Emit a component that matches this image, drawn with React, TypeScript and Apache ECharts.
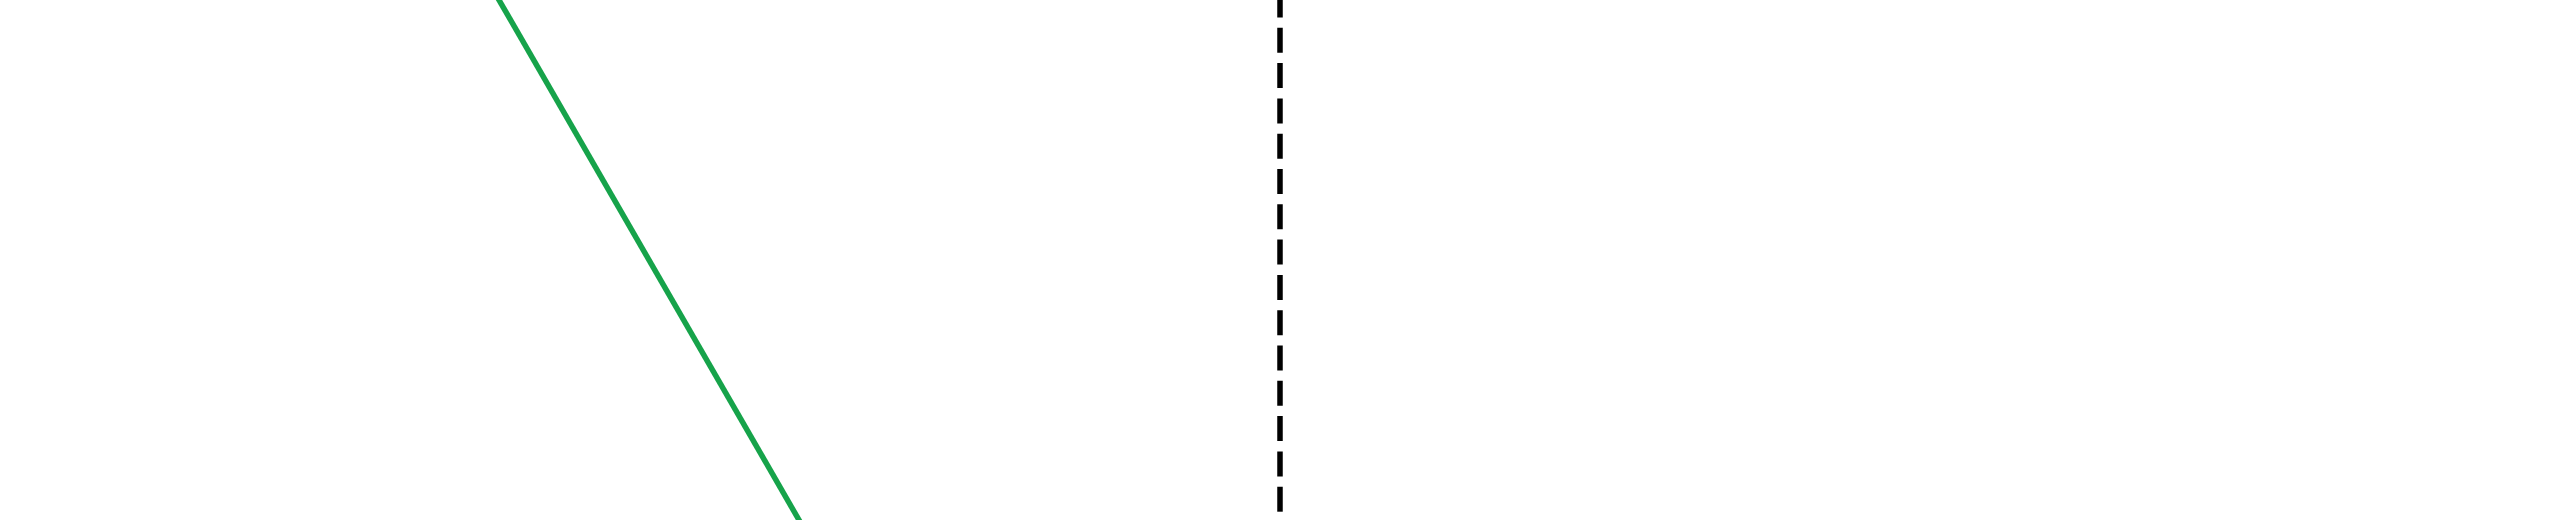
import React, { useEffect, useRef } from "react";
import * as echarts from "echarts";

// visible window of the plot (axes themselves are hidden)
const xRange = [0, 32];
const yRange = [0, 100];

// the falling green series, it runs off the top and bottom of the window
const trendX = [5, 11];
const trendY = [133, -27];

// the dashed marker
const markerX = 16;

const App: React.FC = () => {
  const chartRef = useRef<HTMLDivElement>(null);

  useEffect(() => {
    if (!chartRef.current) return;

    const chartInstance = echarts.init(chartRef.current, undefined, {
      renderer: "svg",
    });

    const option = {
      animation: false,
      backgroundColor: "#ffffff",
      grid: { left: 0, right: 0, top: 0, bottom: 0, containLabel: false },
      xAxis: {
        type: "value",
        min: xRange[0],
        max: xRange[1],
        show: false,
        splitLine: { show: false },
      },
      yAxis: {
        type: "value",
        min: yRange[0],
        max: yRange[1],
        show: false,
        splitLine: { show: false },
      },
      series: [
        {
          type: "line",
          data: trendX.map((x, i) => [x, trendY[i]]),
          showSymbol: false,
          symbol: "none",
          clip: true,
          lineStyle: { color: "#16a34a", width: 5.5 },
          markLine: {
            silent: true,
            symbol: "none",
            label: { show: false },
            lineStyle: {
              color: "#000000",
              width: 5.5,
              type: [25, 10.3], // dash / gap
              dashOffset: 27.3,
            },
            data: [{ xAxis: markerX }],
          },
        },
      ],
    };

    chartInstance.setOption(option);

    return () => {
      chartInstance.dispose();
    };
  }, []);

  return (
    <div
      ref={chartRef}
      style={{ position: "fixed", left: 0, top: 0, width: 2560, height: 520 }}
    />
  );
};

export default App;
